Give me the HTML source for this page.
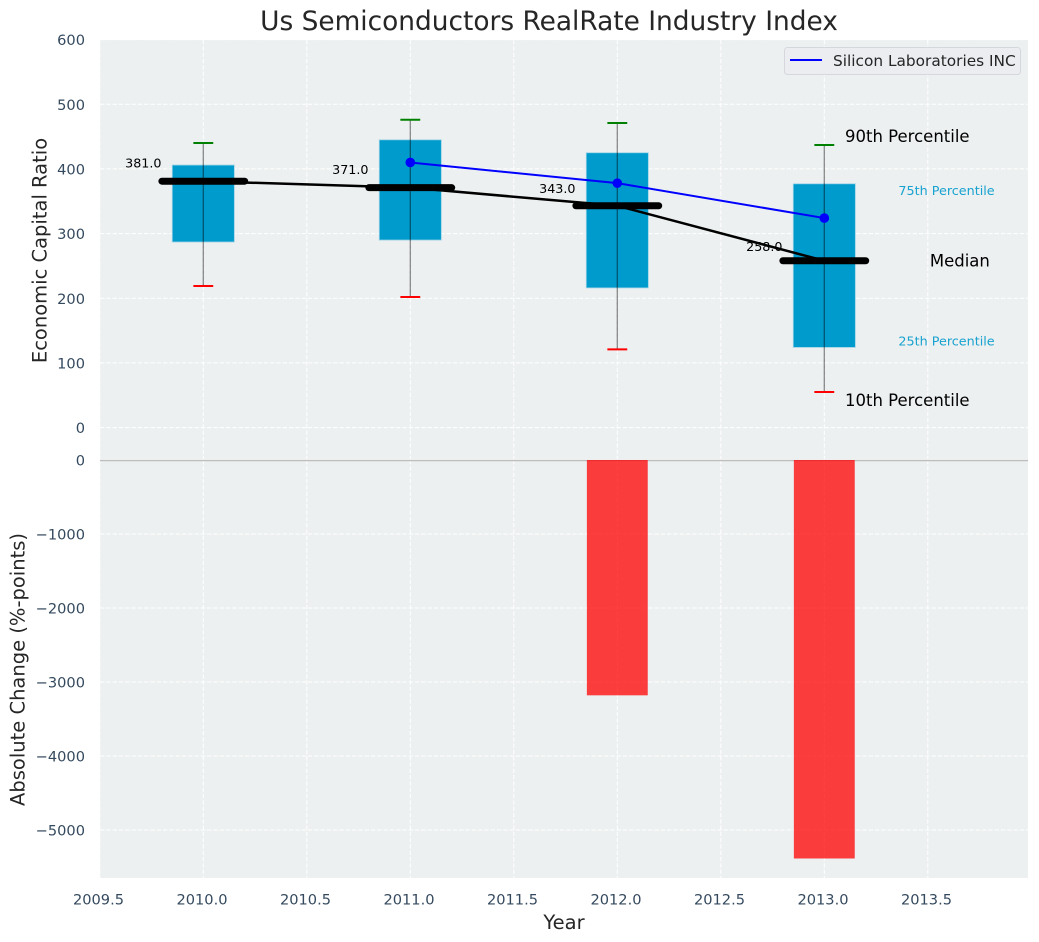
<!DOCTYPE html>
<html lang="en">
<head>
<meta charset="utf-8">
<title>Us Semiconductors RealRate Industry Index</title>
<style>
html,body{margin:0;padding:0;background:#fff;}
svg{display:block;font-family:"DejaVu Sans","Liberation Sans",sans-serif;}
</style>
</head>
<body>
<svg id="chart" xmlns="http://www.w3.org/2000/svg" width="1039" height="942" viewBox="0 0 1039 942">
  <rect x="0" y="0" width="1039" height="942" fill="#ffffff"/>
  <rect x="100" y="40" width="928" height="419" fill="#ecf0f1"/>
  <rect x="100" y="460" width="928" height="418" fill="#ecf0f1"/>
  <g id="grid"></g>
  <g id="marks"></g>
  <g id="ticks"></g>
  <text x="549" y="30" text-anchor="middle" font-size="26.4" fill="#262626">Us Semiconductors RealRate Industry Index</text>
  <text x="564" y="929" text-anchor="middle" font-size="19.5" fill="#262626">Year</text>
  <text transform="translate(46.5,250.5) rotate(-90)" text-anchor="middle" font-size="19.5" fill="#262626">Economic Capital Ratio</text>
  <text transform="translate(24.5,669.5) rotate(-90)" text-anchor="middle" font-size="19.5" fill="#262626">Absolute Change (%-points)</text>
  <g>
    <rect x="784.5" y="47.5" width="236" height="27" rx="3" fill="#ebedf1" stroke="#d5d7dc" stroke-width="1"/>
    <line x1="790" y1="60" x2="822" y2="60" stroke="#0000ff" stroke-width="2"/>
    <text x="833" y="66" font-size="15.35" fill="#262626">Silicon Laboratories INC</text>
  </g>
</svg>
<script>
const years = [2010, 2011, 2012, 2013];
const p10 = [219, 202, 121, 55];
const p25 = [287, 290, 216, 124];
const medians = [381, 371, 343, 258];
const p75 = [406, 445, 425, 377];
const p90 = [440, 476, 471, 437];
const companyYears = [2011, 2012, 2013];
const companyValues = [410, 378, 324];
const changeYears = [2012, 2013];
const changeValues = [-3180, -5385];
const xTickValues = [2009.5, 2010, 2010.5, 2011, 2011.5, 2012, 2012.5, 2013, 2013.5];
const topTickValues = [0, 100, 200, 300, 400, 500, 600];
const bottomTickValues = [0, -1000, -2000, -3000, -4000, -5000];

const NS = 'http://www.w3.org/2000/svg';
const X_LEFT = 100, X_RIGHT = 1028;
const TOP_START = 40, TOP_END = 459, BOTTOM_START = 460, BOTTOM_END = 878;
const xScale = v => 99.8 + (v - 2009.5) * 207;
const yTop = v => 427.6 - v * 0.6467;
const yBottom = v => 460 - v * 0.074 * -1 * -1;

function make(tag, attrs, parent, txt) {
  const el = document.createElementNS(NS, tag);
  for (const k in attrs) el.setAttribute(k, attrs[k]);
  if (txt !== undefined) el.textContent = txt;
  parent.appendChild(el);
  return el;
}
const gridG = document.getElementById('grid');
const marksG = document.getElementById('marks');
const ticksG = document.getElementById('ticks');
const dash = '4.4 1.9';

xTickValues.forEach(v => {
  const x = xScale(v);
  const a = make('line', {x1:x, x2:x, y1:TOP_START, y2:TOP_END, stroke:'#fff', 'stroke-width':1, 'stroke-dasharray':dash}, gridG);
  
  
  const b = make('line', {x1:x, x2:x, y1:BOTTOM_START, y2:BOTTOM_END, stroke:'#fff', 'stroke-width':1, 'stroke-dasharray':dash}, gridG);
  
  
  const t = make('text', {x:x - 1.3, y:904.5, 'text-anchor':'middle', 'font-size':14.6, fill:'#34495e'}, ticksG, v.toFixed(1));
  
  
});
topTickValues.forEach(v => {
  const y = yTop(v);
  const a = make('line', {x1:X_LEFT, x2:X_RIGHT, y1:y, y2:y, stroke:'#fff', 'stroke-width':1, 'stroke-dasharray':dash}, gridG);
  
  
  const t = make('text', {x:85, y:y + 5.5, 'text-anchor':'end', 'font-size':14.6, fill:'#34495e'}, ticksG, String(v));
  
  
});
bottomTickValues.forEach(v => {
  const y = yBottom(v);
  const a = make('line', {x1:X_LEFT, x2:X_RIGHT, y1:y, y2:y, stroke:'#fff', 'stroke-width':1, 'stroke-dasharray':dash}, gridG);
  
  
  const t = make('text', {x:85, y:y + 5.5, 'text-anchor':'end', 'font-size':14.6, fill:'#34495e'}, ticksG, String(v).replace('-', '\u2212'));
  
  
});

const zeroLine = make('line', {x1:X_LEFT, x2:X_RIGHT, y1:yBottom(0) + 0.5, y2:yBottom(0) + 0.5, stroke:'#bdbdbd', 'stroke-width':1.5}, marksG);



changeYears.forEach((yr, i) => {
  const x0 = xScale(yr - 0.147), x1 = xScale(yr + 0.147);
  const yy = yBottom(changeValues[i]);
  const r = make('rect', {x:x0, y:yBottom(0), width:x1 - x0, height:yy - yBottom(0), fill:'#ff0000', 'fill-opacity':0.75}, marksG);
  
  
});

years.forEach((yr, i) => {
  const x0 = xScale(yr - 0.15), x1 = xScale(yr + 0.15);
  const r = make('rect', {x:x0, y:yTop(p75[i]), width:x1 - x0, height:yTop(p25[i]) - yTop(p75[i]), fill:'#009bcd', stroke:'#9fd3e6', 'stroke-width':0.8}, marksG);
  
  
});

const medianPath = make('polyline', {points:years.map((yr, i) => xScale(yr) + ',' + yTop(medians[i])).join(' '), fill:'none', stroke:'#000', 'stroke-width':2.5}, marksG);



years.forEach((yr, i) => {
  const x = xScale(yr);
  const w = make('line', {x1:x, x2:x, y1:yTop(p90[i]), y2:yTop(p10[i]), stroke:'#000', 'stroke-opacity':0.45, 'stroke-width':1.3}, marksG);
  
  
  const hi = make('line', {x1:xScale(yr - 0.048), x2:xScale(yr + 0.048), y1:yTop(p90[i]), y2:yTop(p90[i]), stroke:'#008000', 'stroke-width':2}, marksG);
  
  
  const lo = make('line', {x1:xScale(yr - 0.048), x2:xScale(yr + 0.048), y1:yTop(p10[i]), y2:yTop(p10[i]), stroke:'#ff0000', 'stroke-width':2}, marksG);
  
  
  const m = make('line', {x1:xScale(yr - 0.2), x2:xScale(yr + 0.2), y1:yTop(medians[i]), y2:yTop(medians[i]), stroke:'#000', 'stroke-width':7, 'stroke-linecap':'round'}, marksG);
  
  
  const lab = make('text', {x:xScale(yr - 0.38) + 0.5, y:yTop(medians[i] * 1.05 + 2.5), 'font-size':12.7, fill:'#000'}, marksG, medians[i].toFixed(1));
  
  
});

const companyPath = make('polyline', {points:companyYears.map((yr, i) => xScale(yr) + ',' + yTop(companyValues[i])).join(' '), fill:'none', stroke:'#0000ff', 'stroke-width':2}, marksG);


companyYears.forEach((yr, i) => {
  const c = make('circle', {cx:xScale(yr), cy:yTop(companyValues[i]), r:4.8, fill:'#0000ff'}, marksG);
  
  
});

const last = years.length - 1;
const lastYear = years[last];
const t90 = make('text', {x:xScale(lastYear + 0.1), y:yTop(p90[last]) - 3, 'font-size':16.5, fill:'#000'}, marksG, '90th Percentile');


const t75 = make('text', {x:xScale(lastYear + 0.358), y:yTop(p75[last]) + 11, 'font-size':12.75, fill:'#0099cc', 'fill-opacity':0.9}, marksG, '75th Percentile');


const tMed = make('text', {x:xScale(lastYear + 0.51), y:yTop(medians[last]) + 5.5, 'font-size':16.5, fill:'#000'}, marksG, 'Median');


const t25 = make('text', {x:xScale(lastYear + 0.358), y:yTop(p25[last]) - 2, 'font-size':12.75, fill:'#0099cc', 'fill-opacity':0.9}, marksG, '25th Percentile');


const t10 = make('text', {x:xScale(lastYear + 0.1), y:yTop(p10[last]) + 14, 'font-size':16.5, fill:'#000'}, marksG, '10th Percentile');


</script>
</body>
</html>
